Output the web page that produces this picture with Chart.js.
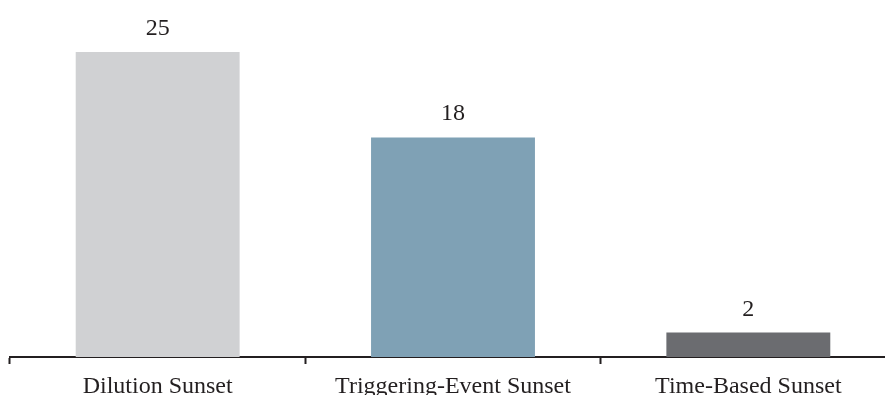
<!DOCTYPE html>
<html>
<head>
<meta charset="utf-8">
<script src="https://cdn.jsdelivr.net/npm/chart.js@4"></script>
<style>
  html, body { margin: 0; padding: 0; background: #fff; overflow: hidden; }
  #wrap { width: 900px; height: 395px; }
</style>
</head>
<body>
<div id="wrap"><canvas id="chart" width="900" height="395"></canvas></div>
<script>
// data
const categories = ["Dilution Sunset", "Triggering-Event Sunset", "Time-Based Sunset"];
const counts = [25, 18, 2];
const barColors = ["#d0d1d3", "#7fa1b5", "#6b6c70"];

const FONT = "'Liberation Serif', 'Times New Roman', serif";
const INK = "#231f20";

// value labels above each bar
const valueLabels = {
  id: "valueLabels",
  afterDatasetsDraw(chart) {
    const ctx = chart.ctx;
    const meta = chart.getDatasetMeta(0);
    ctx.save();
    ctx.font = "24px " + FONT;
    ctx.fillStyle = INK;
    ctx.textAlign = "center";
    ctx.textBaseline = "alphabetic";
    meta.data.forEach((bar, i) => {
      ctx.fillText(String(counts[i]), bar.x, bar.y - 17);
    });
    ctx.restore();
  }
};

new Chart(document.getElementById("chart").getContext("2d"), {
  type: "bar",
  data: {
    labels: categories,
    datasets: [{
      data: counts,
      backgroundColor: barColors,
      borderWidth: 0,
      barPercentage: 0.555,
      categoryPercentage: 1.0
    }]
  },
  options: {
    responsive: false,
    animation: false,
    layout: { padding: { top: 52, left: 10, right: 4, bottom: 0 } },
    plugins: {
      legend: { display: false },
      tooltip: { enabled: false },
      title: { display: false }
    },
    scales: {
      x: {
        grid: {
          offset: true,
          drawOnChartArea: false,
          drawTicks: true,
          tickLength: 7,
          tickWidth: 2,
          tickColor: INK
        },
        border: { display: true, color: INK, width: 2 },
        ticks: {
          color: INK,
          padding: 8,
          maxRotation: 0,
          autoSkip: false,
          font: { family: FONT, size: 24 }
        },
        afterFit: (scale) => { scale.height = 38; }
      },
      y: {
        display: false,
        min: 0,
        max: 25
      }
    }
  },
  plugins: [valueLabels]
});
</script>
</body>
</html>
